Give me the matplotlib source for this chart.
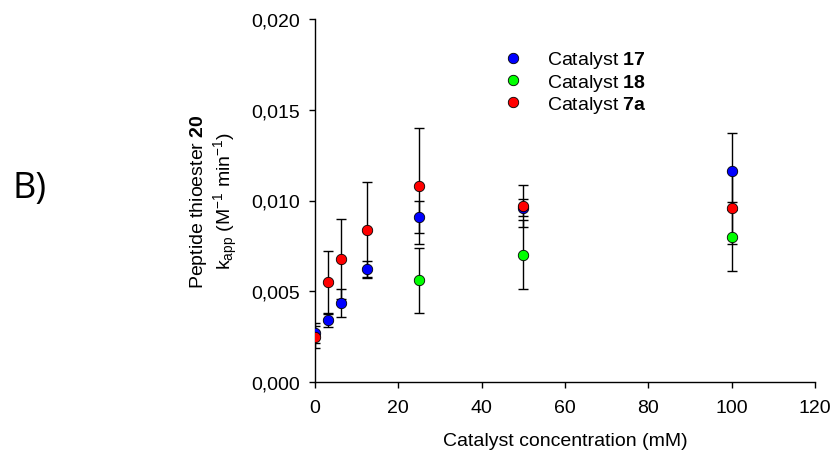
import matplotlib
matplotlib.use("Agg")
import matplotlib.pyplot as plt
from matplotlib.ticker import FuncFormatter

plt.rcParams['font.family'] = ['Liberation Sans', 'DejaVu Sans']
plt.rcParams['mathtext.fontset'] = 'custom'
plt.rcParams['mathtext.rm'] = 'Liberation Sans'
plt.rcParams['mathtext.it'] = 'Liberation Sans:italic'
plt.rcParams['mathtext.bf'] = 'Liberation Sans:bold'

# catalyst 17 (blue)
conc_17 = [0, 3.125, 6.25, 12.5, 25, 50, 100]
k_17 = [0.0027, 0.0034, 0.00435, 0.0062, 0.0091, 0.0096, 0.0116]
err_17 = [0.00055, 0.00037, 0.00077, 0.00047, 0.00088, 0.00047, 0.0021]

# catalyst 18 (green)
conc_18 = [25, 50, 100]
k_18 = [0.0056, 0.0070, 0.0080]
err_18 = [0.0018, 0.0019, 0.0019]

# catalyst 7a (red)
conc_7a = [0, 3.125, 6.25, 12.5, 25, 50, 100]
k_7a = [0.0025, 0.0055, 0.0068, 0.0084, 0.0108, 0.0097, 0.0096]
err_7a = [0.0006, 0.0017, 0.0022, 0.0026, 0.0032, 0.00115, 0.0020]

series = [
    (conc_17, k_17, err_17, '#0000ff', r'Catalyst $\mathbf{17}$'),
    (conc_18, k_18, err_18, '#00ff00', r'Catalyst $\mathbf{18}$'),
    (conc_7a, k_7a, err_7a, '#ff0000', r'Catalyst $\mathbf{7a}$'),
]

W, H = 832, 456
fig = plt.figure(figsize=(W / 100, H / 100), dpi=100)
ax = fig.add_axes([315 / W, 1 - 383 / H, 500 / W, 363 / H])

for x, y, e, c, lab in series:
    ax.errorbar(x, y, yerr=e, fmt='none', ecolor='black', elinewidth=1,
                capsize=3.85, capthick=1, zorder=2)
for x, y, e, c, lab in series:
    ax.plot(x, y, 'o', color=c, markeredgecolor='black', markeredgewidth=0.6,
            markersize=7.5, label=lab, linestyle='none', zorder=3)

ax.set_xlim(0, 120)
ax.set_ylim(0, 0.020)
ax.set_xticks([0, 20, 40, 60, 80, 100, 120])
ax.set_yticks([0, 0.005, 0.010, 0.015, 0.020])
ax.yaxis.set_major_formatter(FuncFormatter(lambda v, p: f"{v:.3f}".replace('.', ',')))
ax.spines['top'].set_visible(False)
ax.spines['right'].set_visible(False)
ax.tick_params(direction='out', length=4, width=1, labelsize=14, colors='black')
ax.tick_params(axis='x', pad=8)
ax.tick_params(axis='y', pad=7)
for s in ['left', 'bottom']:
    ax.spines[s].set_linewidth(1)
ax.set_xlabel('Catalyst concentration (mM)', fontsize=14, labelpad=12)
ax.set_ylabel('Peptide thioester $\\mathbf{20}$\n'
              'k$_{\\mathrm{app}}$ (M$^{-1}$ min$^{-1}$)',
              fontsize=14, labelpad=8, linespacing=1.15)
ax.patch.set_visible(False)

fs = 14 * 100 / 72
leg = ax.legend(loc='center left', bbox_to_anchor=((513 - 0.5 * fs) / W, 1 - 83 / H),
                bbox_transform=fig.transFigure, frameon=False,
                fontsize=14, handletextpad=1.24, labelspacing=0.06,
                handlelength=1.0, borderpad=0, borderaxespad=0)

fig.text(13 / W, 1 - 198 / H, 'B)', fontsize=26, family='Open Sans', va='baseline')

fig.savefig('out.png', dpi=100)
